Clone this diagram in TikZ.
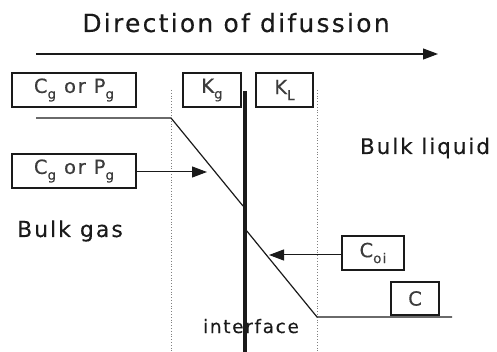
\documentclass[tikz,border=0pt]{standalone}
\usepackage{fontspec}
\usetikzlibrary{arrows.meta}
\newfontfamily\gf[LetterSpace=9,FakeBold=0.2]{DejaVu Sans}
\definecolor{ink}{HTML}{1A1A1A}
\newcommand\sbx[1]{\raisebox{-0.3em}{\fontsize{13.5}{13.5}\selectfont #1}}
\tikzset{
  lbl/.style={font=\gf, text=ink, inner sep=0pt, anchor=base},
  tag/.style={draw=ink, line width=1.3pt, inner sep=0pt, font=\gf\fontsize{19.5}{19.5}\selectfont, text=ink!85},
  prof/.style={draw=ink, line width=1.2pt},
  film/.style={draw=gray, line width=0.8pt, dotted},
  arr/.style={-{Triangle[length=15pt,width=11pt]}, draw=ink, line width=1pt}
}
\begin{document}
\begin{tikzpicture}[x=1pt,y=-1pt]
\useasboundingbox (0,0) rectangle (497,352);
% title and direction arrow
\node[lbl, font=\gf\fontsize{25}{25}\selectfont] (title) at (236,32) {Direction of difussion};
\coordinate (d1) at (36,54);
\coordinate (d2) at (438,54);
\draw[arr, line width=1.1pt] (d1) -- (d2);
% film boundaries
\coordinate (f1t) at (171,90); \coordinate (f1b) at (171,352);
\coordinate (f2t) at (317,90); \coordinate (f2b) at (317,352);
\draw[film] (f1t) -- (f1b);
\draw[film] (f2t) -- (f2b);
% labels
\node[lbl, font=\gf\fontsize{22}{22}\selectfont] (bgas) at (70,237) {Bulk gas};
\node[lbl, font=\gf\fontsize{21.5}{21.5}\selectfont] (bliq) at (425,154) {Bulk liquid};
\node[lbl, font=\gf\fontsize{18.5}{18.5}\selectfont] (intf) at (251,333) {interface};
% interface
\coordinate (it) at (245,91); \coordinate (ib) at (245,352);
\draw[ink, line width=4.5pt] (it) -- (ib);
% concentration profile
\coordinate (p0) at (36,118);
\coordinate (p1) at (171,118);
\coordinate (p2) at (243,206);
\coordinate (p3) at (246,230);
\coordinate (p4) at (317,317);
\coordinate (p5) at (452,317);
\draw[prof] (p0) -- (p1) -- (p2);
\draw[prof] (p3) -- (p4) -- (p5);
% boxes
\node[tag, minimum width=124pt, minimum height=34pt] (gtop) at (74,90) {C\sbx{g} or P\sbx{g}};
\node[tag, minimum width=124pt, minimum height=34pt] (gmid) at (74,171) {C\sbx{g} or P\sbx{g}};
\node[tag, minimum width=58pt, minimum height=34pt] (kg) at (212,90) {K\sbx{g}};
\node[tag, minimum width=57pt, minimum height=34pt] (kl) at (284.5,90) {K\sbx{L}};
\node[tag, minimum width=62pt, minimum height=34pt] (coi) at (373,253) {C\sbx{oi}};
\node[tag, minimum width=48pt, minimum height=33pt] (cb) at (415,298.5) {C};
% pointers
\coordinate (gtip) at (207,172);
\coordinate (ctip) at (269,255);
\draw[arr] (gmid.east |- gtip) -- (gtip);
\draw[arr] (coi.west |- ctip) -- (ctip);
\end{tikzpicture}
\end{document}
